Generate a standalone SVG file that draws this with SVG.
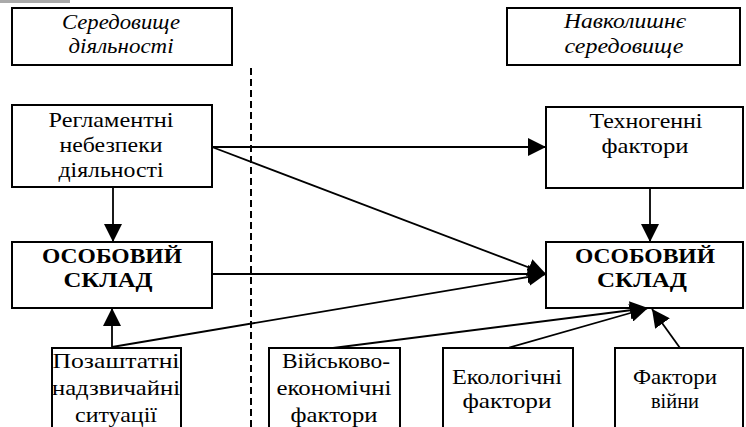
<svg xmlns="http://www.w3.org/2000/svg" width="746" height="427" viewBox="0 0 746 427">
<defs>
<marker id="ah" viewBox="0 0 18 18" markerWidth="18" markerHeight="18" refX="18" refY="9" orient="auto" markerUnits="userSpaceOnUse">
<path d="M0,0 L18,9 L0,18 z" fill="#000"/>
</marker>
</defs>
<rect width="746" height="427" fill="#fff"/>
<rect x="0" y="0" width="70" height="3" fill="#aaa"/>
<line x1="251" y1="68" x2="251" y2="427" stroke="#000" stroke-width="2" stroke-dasharray="7 4"/>

<g id="env-activity">
<rect x="12" y="8" width="220" height="57" fill="#fff" stroke="#000" stroke-width="2"/>
<text font-family="Times New Roman, serif" font-size="21" font-style="italic" text-anchor="middle" x="121" y="29" textLength="118" lengthAdjust="spacingAndGlyphs">Середовище</text>
<text font-family="Times New Roman, serif" font-size="21" font-style="italic" text-anchor="middle" x="121" y="53" textLength="105" lengthAdjust="spacingAndGlyphs">діяльності</text>
</g>
<g id="env-surrounding">
<rect x="507" y="8" width="233" height="57" fill="#fff" stroke="#000" stroke-width="2"/>
<text font-family="Times New Roman, serif" font-size="21" font-style="italic" text-anchor="middle" x="625" y="28" textLength="122" lengthAdjust="spacingAndGlyphs">Навколишнє</text>
<text font-family="Times New Roman, serif" font-size="21" font-style="italic" text-anchor="middle" x="624" y="53" textLength="119" lengthAdjust="spacingAndGlyphs">середовище</text>
</g>
<g id="reglament">
<rect x="12" y="105" width="200" height="82" fill="#fff" stroke="#000" stroke-width="2"/>
<text font-family="Times New Roman, serif" font-size="21" text-anchor="middle" x="111" y="127" textLength="125" lengthAdjust="spacingAndGlyphs">Регламентні</text>
<text font-family="Times New Roman, serif" font-size="21" text-anchor="middle" x="111" y="152" textLength="103" lengthAdjust="spacingAndGlyphs">небезпеки</text>
<text font-family="Times New Roman, serif" font-size="21" text-anchor="middle" x="111" y="177" textLength="105" lengthAdjust="spacingAndGlyphs">діяльності</text>
</g>
<g id="staff-left">
<rect x="12" y="242" width="200" height="66" fill="#fff" stroke="#000" stroke-width="2"/>
<text font-family="Times New Roman, serif" font-size="22" font-weight="bold" text-anchor="middle" x="112" y="263" textLength="140" lengthAdjust="spacingAndGlyphs">ОСОБОВИЙ</text>
<text font-family="Times New Roman, serif" font-size="22" font-weight="bold" text-anchor="middle" x="108" y="287" textLength="89" lengthAdjust="spacingAndGlyphs">СКЛАД</text>
</g>
<g id="technogenic">
<rect x="546" y="107" width="197" height="81" fill="#fff" stroke="#000" stroke-width="2"/>
<text font-family="Times New Roman, serif" font-size="21" text-anchor="middle" x="646" y="128" textLength="113" lengthAdjust="spacingAndGlyphs">Техногенні</text>
<text font-family="Times New Roman, serif" font-size="21" text-anchor="middle" x="645" y="153" textLength="87" lengthAdjust="spacingAndGlyphs">фактори</text>
</g>
<g id="staff-right">
<rect x="546" y="242" width="197" height="66" fill="#fff" stroke="#000" stroke-width="2"/>
<text font-family="Times New Roman, serif" font-size="22" font-weight="bold" text-anchor="middle" x="645" y="263" textLength="140" lengthAdjust="spacingAndGlyphs">ОСОБОВИЙ</text>
<text font-family="Times New Roman, serif" font-size="22" font-weight="bold" text-anchor="middle" x="642" y="287" textLength="90" lengthAdjust="spacingAndGlyphs">СКЛАД</text>
</g>
<g id="extra-emergency">
<rect x="52" y="348" width="129" height="90" fill="#fff" stroke="#000" stroke-width="2"/>
<text font-family="Times New Roman, serif" font-size="21" text-anchor="middle" x="116" y="368" textLength="127" lengthAdjust="spacingAndGlyphs">Позаштатні</text>
<text font-family="Times New Roman, serif" font-size="21" text-anchor="middle" x="116" y="395" textLength="128" lengthAdjust="spacingAndGlyphs">надзвичайні</text>
<text font-family="Times New Roman, serif" font-size="21" text-anchor="middle" x="116" y="422" textLength="82" lengthAdjust="spacingAndGlyphs">ситуації</text>
</g>
<g id="military-economic">
<rect x="269" y="348" width="131" height="90" fill="#fff" stroke="#000" stroke-width="2"/>
<text font-family="Times New Roman, serif" font-size="21" text-anchor="middle" x="336" y="368" textLength="108" lengthAdjust="spacingAndGlyphs">Військово-</text>
<text font-family="Times New Roman, serif" font-size="21" text-anchor="middle" x="334" y="395" textLength="115" lengthAdjust="spacingAndGlyphs">економічні</text>
<text font-family="Times New Roman, serif" font-size="21" text-anchor="middle" x="334" y="422" textLength="87" lengthAdjust="spacingAndGlyphs">фактори</text>
</g>
<g id="ecological">
<rect x="443" y="348" width="130" height="90" fill="#fff" stroke="#000" stroke-width="2"/>
<text font-family="Times New Roman, serif" font-size="21" text-anchor="middle" x="507" y="384" textLength="110" lengthAdjust="spacingAndGlyphs">Екологічні</text>
<text font-family="Times New Roman, serif" font-size="21" text-anchor="middle" x="507" y="408" textLength="89" lengthAdjust="spacingAndGlyphs">фактори</text>
</g>
<g id="war-factors">
<rect x="615" y="348" width="128" height="90" fill="#fff" stroke="#000" stroke-width="2"/>
<text font-family="Times New Roman, serif" font-size="21" text-anchor="middle" x="675" y="384" textLength="84" lengthAdjust="spacingAndGlyphs">Фактори</text>
<text font-family="Times New Roman, serif" font-size="21" text-anchor="middle" x="675" y="408" textLength="48" lengthAdjust="spacingAndGlyphs">війни</text>
</g>

<g id="connectors" stroke="#000" stroke-width="1.8" fill="none" marker-end="url(#ah)">
<line x1="212" y1="147" x2="546" y2="147"/>
<line x1="212" y1="147" x2="546" y2="274"/>
<line x1="211" y1="274" x2="546" y2="274"/>
<line x1="112" y1="347" x2="546" y2="274"/>
<line x1="113" y1="187" x2="113" y2="242"/>
<line x1="112" y1="347" x2="112" y2="308"/>
<line x1="650" y1="188" x2="650" y2="242"/>
<line x1="333" y1="348" x2="648" y2="308"/>
<line x1="508" y1="348" x2="648" y2="308"/>
<line x1="680" y1="348" x2="652" y2="309"/>
</g>
</svg>
